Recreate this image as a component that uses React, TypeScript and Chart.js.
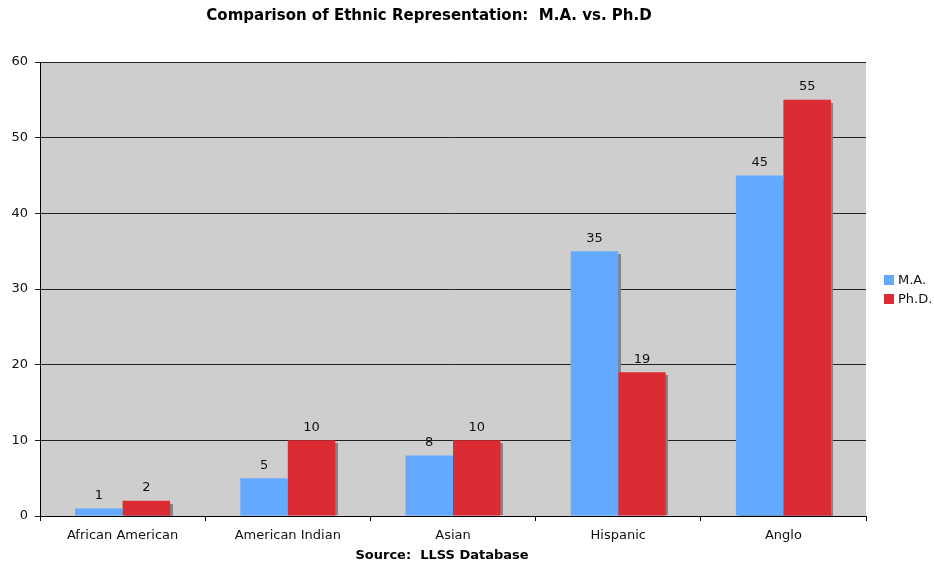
import React, { useEffect, useRef } from "react";
import { Chart, registerables } from "chart.js";

Chart.register(...registerables);

const categories = ["African American", "American Indian", "Asian", "Hispanic", "Anglo"];
const maValues = [1, 5, 8, 35, 45];
const phdValues = [2, 10, 10, 19, 55];
const seriesNames = ["M.A.", "Ph.D."];
const seriesColors = ["#63a9ff", "#dd2b33"];

const chartTitle = "Comparison of Ethnic Representation:  M.A. vs. Ph.D";
const sourceNote = "Source:  LLSS Database";

const FONT = "'DejaVu Sans', Verdana, sans-serif";

// Plot background, bar drop shadows, value labels, legend and headings
const decorations = {
  id: "decorations",
  beforeDraw(chart: any) {
    const { ctx, chartArea } = chart;
    ctx.save();
    ctx.fillStyle = "#cecece";
    ctx.fillRect(chartArea.left, chartArea.top, chartArea.right - chartArea.left, chartArea.bottom - chartArea.top);
    ctx.restore();
  },
  beforeDatasetsDraw(chart: any) {
    const { ctx } = chart;
    ctx.save();
    ctx.fillStyle = "#848484";
    chart.data.datasets.forEach((_: any, di: number) => {
      const meta = chart.getDatasetMeta(di);
      meta.data.forEach((bar: any) => {
        const { x, y, base, width } = bar.getProps(["x", "y", "base", "width"], true);
        const left = Math.round(x - width / 2) + 3;
        ctx.fillRect(left, Math.round(y) + 3, Math.round(width), Math.round(base - y) - 3);
      });
    });
    ctx.restore();
  },
  afterDatasetsDraw(chart: any) {
    const { ctx } = chart;
    ctx.save();
    ctx.font = `13px ${FONT}`;
    ctx.fillStyle = "#111";
    ctx.textAlign = "center";
    ctx.textBaseline = "middle";
    chart.data.datasets.forEach((ds: any, di: number) => {
      const meta = chart.getDatasetMeta(di);
      meta.data.forEach((bar: any, i: number) => {
        const { x, y } = bar.getProps(["x", "y"], true);
        ctx.fillText(String(ds.data[i]), x, y - 13);
      });
    });
    ctx.restore();
  },
  afterDraw(chart: any) {
    const { ctx } = chart;
    ctx.save();
    ctx.fillStyle = "#000";
    ctx.textBaseline = "middle";
    ctx.textAlign = "center";
    ctx.font = `bold 15px ${FONT}`;
    ctx.fillText(chartTitle, 429, 16);
    ctx.font = `bold 13px ${FONT}`;
    ctx.fillText(sourceNote, 442, 556);

    // legend
    ctx.textAlign = "left";
    ctx.font = `13px ${FONT}`;
    seriesNames.forEach((name, i) => {
      const y = 280 + i * 19;
      ctx.fillStyle = seriesColors[i];
      ctx.fillRect(884, y - 5, 10, 10);
      ctx.fillStyle = "#111";
      ctx.fillText(name, 898, y + 1);
    });
    ctx.restore();
  },
};

export default function App() {
  const canvasRef = useRef<HTMLCanvasElement | null>(null);

  useEffect(() => {
    if (!canvasRef.current) return;
    const chart = new Chart(canvasRef.current, {
      type: "bar",
      data: {
        labels: categories,
        datasets: [
          {
            label: seriesNames[0],
            data: maValues,
            backgroundColor: seriesColors[0],
            borderWidth: 0,
            inflateAmount: 0,
            categoryPercentage: 0.575,
            barPercentage: 1,
          },
          {
            label: seriesNames[1],
            data: phdValues,
            backgroundColor: seriesColors[1],
            borderWidth: 0,
            inflateAmount: 0,
            categoryPercentage: 0.575,
            barPercentage: 1,
          },
        ],
      },
      options: {
        animation: false,
        responsive: false,
        layout: { padding: { top: 62, right: 68, left: 0, bottom: 0 } },
        plugins: {
          legend: { display: false },
          title: { display: false },
          tooltip: { enabled: false },
        },
        scales: {
          x: {
            offset: true,
            afterFit(scale: any) {
              scale.height = 51;
            },
            grid: {
              display: true,
              offset: true,
              drawOnChartArea: false,
              drawTicks: true,
              tickLength: 5,
              color: "#000",
            },
            border: { display: true, color: "#000", width: 1 },
            ticks: {
              color: "#111",
              font: { family: FONT, size: 13 },
              padding: 7,
              maxRotation: 0,
              autoSkip: false,
            },
          },
          y: {
            min: 0,
            max: 60,
            afterFit(scale: any) {
              scale.width = 40;
            },
            grid: {
              color: "#222",
              lineWidth: 1,
              drawTicks: true,
              tickLength: 5,
            },
            border: { display: true, color: "#000", width: 1 },
            ticks: {
              stepSize: 10,
              color: "#111",
              font: { family: FONT, size: 13 },
              padding: 7,
            },
          },
        },
      },
      plugins: [decorations],
    });
    return () => chart.destroy();
  }, []);

  return (
    <div style={{ position: "fixed", left: 0, top: 0, width: 934, height: 567, background: "#fff" }}>
      <canvas ref={canvasRef} width={934} height={567} style={{ display: "block" }} />
    </div>
  );
}
